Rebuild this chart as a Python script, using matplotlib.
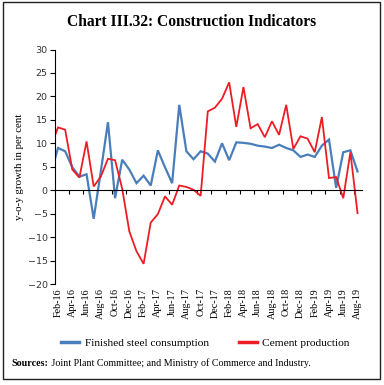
#!/usr/bin/env python3
# Construction indicators: y-o-y growth of steel consumption and cement production

import numpy as np
import matplotlib
matplotlib.use('Agg')
import matplotlib.pyplot as plt
from matplotlib.patches import Rectangle

# data (Jan-16 .. Aug-19, monthly, per cent)
months = ['Jan-16', 'Feb-16', 'Mar-16', 'Apr-16', 'May-16', 'Jun-16', 'Jul-16', 'Aug-16',
          'Sep-16', 'Oct-16', 'Nov-16', 'Dec-16', 'Jan-17', 'Feb-17', 'Mar-17', 'Apr-17',
          'May-17', 'Jun-17', 'Jul-17', 'Aug-17', 'Sep-17', 'Oct-17', 'Nov-17', 'Dec-17',
          'Jan-18', 'Feb-18', 'Mar-18', 'Apr-18', 'May-18', 'Jun-18', 'Jul-18', 'Aug-18',
          'Sep-18', 'Oct-18', 'Nov-18', 'Dec-18', 'Jan-19', 'Feb-19', 'Mar-19', 'Apr-19',
          'May-19', 'Jun-19', 'Jul-19', 'Aug-19']
steel = [3.7, 9.0, 8.3, 4.9, 2.9, 3.4, -6.1, 4.0,
         14.5, -1.7, 6.5, 4.4, 1.5, 3.1, 1.0, 8.5,
         4.9, 1.5, 18.2, 8.3, 6.6, 8.3, 7.8, 6.1,
         10.0, 6.4, 10.2, 10.1, 9.9, 9.5, 9.3, 9.0,
         9.7, 9.0, 8.5, 7.1, 7.6, 7.1, 9.5, 10.8,
         0.5, 8.1, 8.5, 4.0]
cement = [9.4, 13.4, 12.9, 4.4, 2.7, 10.4, 0.8, 2.9,
          6.7, 6.4, 0.3, -8.8, -13.0, -15.7, -6.9, -5.1,
          -1.3, -3.1, 1.0, 0.7, 0.1, -1.2, 16.8, 17.6,
          19.5, 23.0, 13.5, 22.0, 13.2, 14.1, 11.3, 14.7,
          11.8, 18.2, 8.8, 11.5, 11.0, 8.1, 15.6, 2.6,
          2.8, -1.7, 8.1, -4.9]

BLUE = '#4a7ebb'
RED = '#ee1c25'
SERIF = 'Liberation Serif'

fig = plt.figure(figsize=(3.84, 3.85), dpi=100)
ax = fig.add_axes([0.1424, 0.2623, 0.7996, 0.6091])

x = np.arange(len(months))
ax.plot(x, steel, color=BLUE, lw=1.6, label='Finished steel consumption', solid_joinstyle='miter')
ax.plot(x, cement, color=RED, lw=1.3, label='Cement production', solid_joinstyle='miter')

ax.set_xlim(0.53, len(months) - 0.41)
ax.set_ylim(-20, 30)
ax.set_yticks(range(-20, 31, 5))
ax.tick_params(axis='y', labelsize=6.8, length=3.5, width=0.8, pad=1.5, labelcolor='#333333')

for s in ['top', 'right']:
    ax.spines[s].set_visible(False)
ax.spines['left'].set_linewidth(0.8)
ax.spines['bottom'].set_position(('data', 0))
ax.spines['bottom'].set_linewidth(0.8)

# tick marks on the zero line, labels at the bottom
ax.set_xticks(np.arange(2.5, len(months), 2))
ax.tick_params(axis='x', length=3, width=0.8, labelbottom=False)
sec = ax.secondary_xaxis('bottom')
sec.set_xticks(x[1::2], [months[i] for i in x[1::2]], rotation=90, fontsize=7.3, family=SERIF)
sec.tick_params(length=0, pad=3)
sec.spines['bottom'].set_visible(False)

ax.set_ylabel('y-o-y growth in per cent', fontsize=7.8, family=SERIF, labelpad=3)

fig.text(0.5, 0.944, 'Chart III.32: Construction Indicators', ha='center', va='center',
         fontsize=11.2, fontweight='bold', family=SERIF)

fig.legend(loc='center', bbox_to_anchor=(0.535, 0.11), ncol=2, frameon=False,
           prop={'family': SERIF, 'size': 8.2}, handlelength=1.6, handletextpad=0.5,
           columnspacing=2.6)
for line in fig.legends[0].get_lines():
    line.set_linewidth(2.5)

# source note: bold lead-in, then the rest right after it
src = fig.text(0.031, 0.056, 'Sources:', fontsize=7.2, fontweight='bold', family=SERIF, va='center')
ax.annotate(' Joint Plant Committee; and Ministry of Commerce and Industry.',
            xy=(1, 0.5), xycoords=src, va='center', ha='left',
            fontsize=7.2, family=SERIF, annotation_clip=False)

fig.patches.append(Rectangle((0.008, 0.016), 0.982, 0.978, transform=fig.transFigure,
                             fill=False, edgecolor='#222222', lw=1.0))

fig.savefig('out.png', dpi=100)
